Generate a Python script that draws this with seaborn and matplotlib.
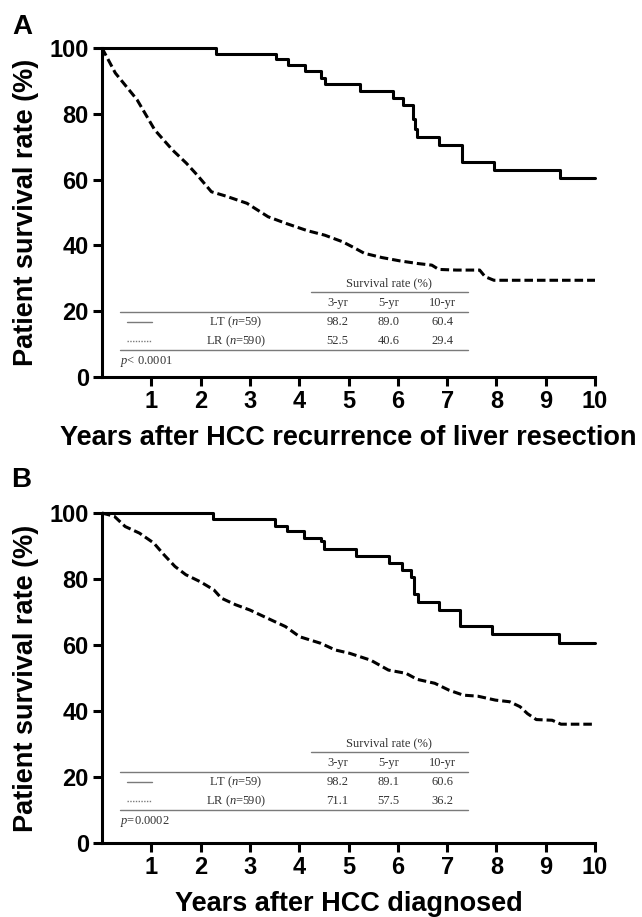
import matplotlib
matplotlib.use("Agg")
import matplotlib.pyplot as plt
import seaborn as sns

# ---- data ----
# Panel A: survival after HCC recurrence of liver resection
lt_years_a = [0, 2.31, 3.52, 3.77, 4.11, 4.44, 4.52, 5.24, 5.91, 6.11, 6.31, 6.35, 6.38,
              6.84, 7.30, 7.95, 9.29, 10]
lt_surv_a = [100, 98.3, 96.6, 94.7, 92.9, 90.9, 89.1, 87.0, 84.8, 82.7, 78.4, 75.5, 73.1,
             70.6, 65.5, 62.9, 60.4, 60.4]
lr_years_a = [0, 0.27, 0.71, 1.07, 1.43, 1.71, 1.93, 2.22, 2.51, 2.94, 3.37, 3.73, 4.16,
              4.52, 4.88, 5.10, 5.32, 5.68, 6.04, 6.40, 6.69, 6.83, 7.19, 7.66, 7.77, 7.95, 10]
lr_surv_a = [100, 92.4, 84.3, 75.1, 69.0, 65.0, 61.4, 56.3, 55.0, 52.8, 48.7, 46.7, 44.5,
             43.1, 41.1, 39.4, 37.6, 36.3, 35.3, 34.5, 34.0, 32.7, 32.5, 32.5, 30.5, 29.4, 29.4]

# Panel B: survival after HCC diagnosed
lt_years_b = [0, 2.25, 3.50, 3.75, 4.09, 4.44, 4.50, 5.16, 5.83, 6.09, 6.26, 6.32, 6.40,
              6.84, 7.26, 7.91, 9.26, 10]
lt_surv_b = [100, 98.2, 96.2, 94.4, 92.4, 91.6, 89.1, 87.0, 84.8, 82.6, 80.6, 75.5, 73.0,
             70.6, 65.9, 63.2, 60.6, 60.6]
lr_years_b = [0, 0.25, 0.47, 0.76, 1.05, 1.26, 1.48, 1.70, 1.99, 2.27, 2.42, 2.71, 3.00,
              3.43, 3.72, 4.01, 4.44, 4.73, 5.02, 5.45, 5.81, 6.17, 6.39, 6.75, 7.04, 7.33,
              7.62, 7.98, 8.27, 8.48, 8.63, 8.81, 9.13, 9.31, 10]
lr_surv_b = [100, 99.0, 95.9, 93.9, 90.9, 87.3, 83.8, 81.3, 79.2, 76.7, 74.2, 72.2, 70.6,
             67.6, 65.6, 62.5, 60.5, 58.5, 57.5, 55.4, 52.4, 51.4, 49.6, 48.4, 46.3, 44.8,
             44.5, 43.3, 42.8, 41.3, 39.2, 37.4, 37.2, 36.0, 36.0]

# inset table
col_headers = ["3-yr", "5-yr", "10-yr"]
lt_rates_a = [98.2, 89.0, 60.4]
lr_rates_a = [52.5, 40.6, 29.4]
lt_rates_b = [98.2, 89.1, 60.6]
lr_rates_b = [71.1, 57.5, 36.2]
p_text_a = r"$\mathit{p}$< 0.0001"
p_text_b = r"$\mathit{p}$=0.0002"

x_ticks = list(range(1, 11))
y_ticks = [0, 20, 40, 60, 80, 100]

sns.set_theme(style="ticks")
plt.rcParams["font.family"] = ["Liberation Sans", "DejaVu Sans"]
plt.rcParams["mathtext.fontset"] = "custom"
plt.rcParams["mathtext.rm"] = "Liberation Serif"
plt.rcParams["mathtext.it"] = "Liberation Serif:italic"
for key in ["text.color", "axes.labelcolor", "xtick.color", "ytick.color", "axes.edgecolor"]:
    plt.rcParams[key] = "black"

LW = 2.2
TABLE_GRAY = "#7a7a7a"
TABLE_TEXT = "#333333"


def draw_table(ax, lt_rates, lr_rates, p_text, dy):
    serif = dict(family="Liberation Serif", fontsize=9, color=TABLE_TEXT,
                 ha="center", va="center")
    col_x = [4.78, 5.81, 6.90]
    ax.text(5.83, 28.4 + dy, "Survival rate (%)", **serif)
    ax.plot([4.24, 7.42], [25.7 + dy] * 2, color=TABLE_GRAY, lw=1.0)
    for cx, h in zip(col_x, col_headers):
        ax.text(cx, 22.5 + dy, h, **serif)
    ax.plot([0.37, 7.42], [19.8 + dy] * 2, color=TABLE_GRAY, lw=1.0)
    # sample lines for each group
    ax.plot([0.50, 1.01], [16.6 + dy] * 2, color=TABLE_GRAY, lw=1.0)
    ax.plot([0.50, 1.01], [10.9 + dy] * 2, color=TABLE_GRAY, lw=1.0, ls=(0, (1, 1)))
    ax.text(2.71, 16.6 + dy, r"LT ($\mathit{n}$=59)", **serif)
    ax.text(2.71, 10.9 + dy, r"LR ($\mathit{n}$=590)", **serif)
    for cx, v1, v2 in zip(col_x, lt_rates, lr_rates):
        ax.text(cx, 16.6 + dy, f"{v1:.1f}", **serif)
        ax.text(cx, 10.9 + dy, f"{v2:.1f}", **serif)
    ax.plot([0.37, 7.42], [8.1 + dy] * 2, color=TABLE_GRAY, lw=1.0)
    ax.text(0.37, 4.7 + dy, p_text, family="Liberation Serif", fontsize=9,
            color=TABLE_TEXT, ha="left", va="center")


def draw_panel(ax, lt_x, lt_y, lr_x, lr_y, xlabel):
    sns.lineplot(x=lt_x, y=lt_y, ax=ax, color="black", lw=LW, estimator=None,
                 sort=False, drawstyle="steps-post", clip_on=False)
    sns.lineplot(x=lr_x, y=lr_y, ax=ax, color="black", lw=LW, estimator=None,
                 sort=False, clip_on=False)
    ax.lines[-1].set_dashes((2.8, 1.3))

    ax.set_xlim(0, 10)
    ax.set_ylim(0, 100)
    ax.set_xticks(x_ticks)
    ax.set_yticks(y_ticks)
    sns.despine(ax=ax)
    for side in ["left", "bottom"]:
        ax.spines[side].set_linewidth(LW)
        ax.spines[side].set_color("black")
    ax.tick_params(width=LW, length=6.5, color="black", labelcolor="black",
                   labelsize=17, pad=3)
    for lab in ax.get_xticklabels() + ax.get_yticklabels():
        lab.set_fontweight("bold")

    ax.set_xlabel(xlabel, fontsize=19.5, fontweight="bold", color="black")
    ax.set_ylabel("Patient survival rate (%)", fontsize=19.5, fontweight="bold",
                  color="black")
    ax.xaxis.label.set_va("center")
    ax.yaxis.label.set_va("center")
    ax.xaxis.set_label_coords(0.5, -61 / 329)
    ax.yaxis.set_label_coords(-76 / 493, 0.5)


fig = plt.figure(figsize=(6.42, 9.17), dpi=100)
ax_a = fig.add_axes([102 / 642, 1 - 377 / 917, 493 / 642, 329 / 917])
ax_b = fig.add_axes([102 / 642, 1 - 843 / 917, 493 / 642, 330 / 917])

draw_panel(ax_a, lt_years_a, lt_surv_a, lr_years_a, lr_surv_a,
           "Years after HCC recurrence of liver resection")
draw_table(ax_a, lt_rates_a, lr_rates_a, p_text_a, 0)

draw_panel(ax_b, lt_years_b, lt_surv_b, lr_years_b, lr_surv_b,
           "Years after HCC diagnosed")
draw_table(ax_b, lt_rates_b, lr_rates_b, p_text_b, 1.8)

fig.text(22 / 642, 1 - 27 / 917, "A", fontsize=20, fontweight="bold", ha="center", va="center")
fig.text(21 / 642, 1 - 480 / 917, "B", fontsize=20, fontweight="bold", ha="center", va="center")

fig.savefig("out.png", dpi=100, facecolor="white")
